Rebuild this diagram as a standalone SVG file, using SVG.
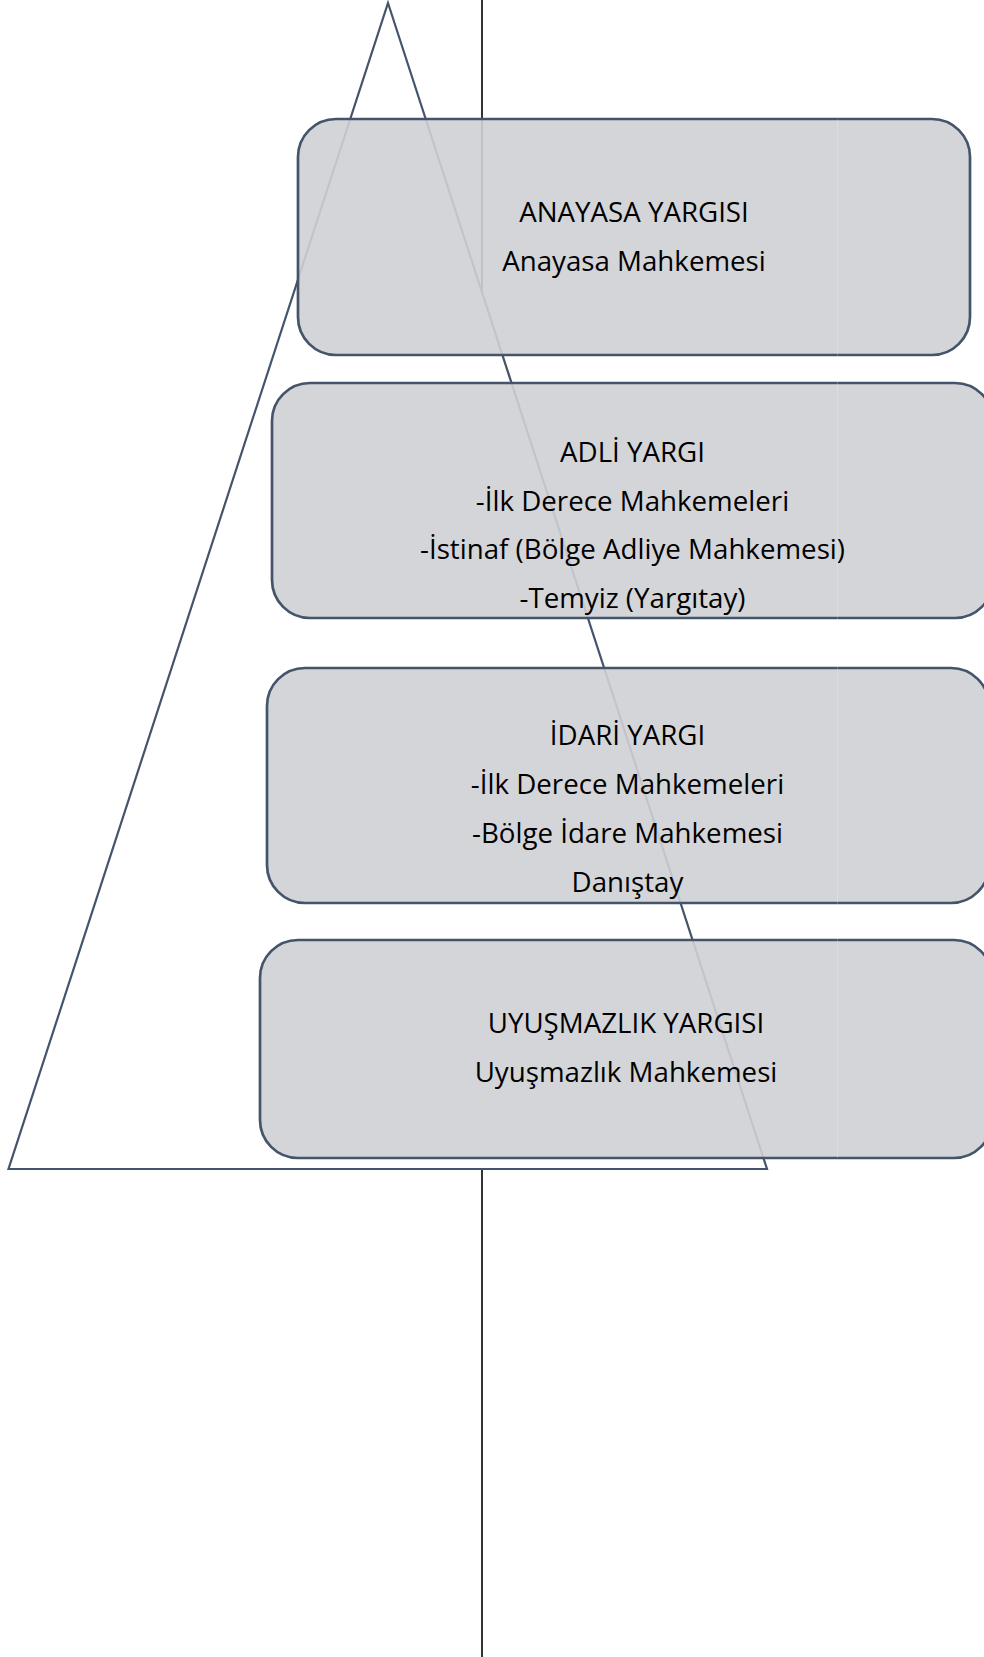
<svg xmlns="http://www.w3.org/2000/svg" width="984" height="1657" viewBox="0 0 984 1657">
  <style>
    .box { fill: #cfd0d5; fill-opacity: 0.9; stroke: #44546a; stroke-width: 2.7; }
    .lbl { font-family: "Open Sans", "Liberation Sans", sans-serif; font-size: 27.7px; fill: #000000; text-anchor: middle; }
    .tri { fill: #ffffff; stroke: #44546a; stroke-width: 2.2; stroke-linejoin: miter; }
    .axis { stroke: #000000; stroke-width: 1.6; fill: none; }
  </style>
  <rect x="0" y="0" width="984" height="1657" fill="#ffffff"/>
  <g id="connectors">
    <line class="axis" x1="482" y1="0" x2="482" y2="1657"/>
  </g>
  <g id="pyramid">
    <polygon class="tri" points="388,3 767,1169 8.5,1169"/>
  </g>
  <g id="node-anayasa">
    <rect class="box" x="298" y="119" width="672" height="236" rx="38" ry="38"/>
    <text class="lbl" x="634" y="222">ANAYASA YARGISI</text>
    <text class="lbl" x="634" y="271">Anayasa Mahkemesi</text>
  </g>
  <g id="node-adli">
    <rect class="box" x="272" y="383" width="721" height="235" rx="38" ry="38"/>
    <text class="lbl" x="632.5" y="462">ADLİ YARGI</text>
    <text class="lbl" x="632.5" y="510.5">-İlk Derece Mahkemeleri</text>
    <text class="lbl" x="632.5" y="559">-İstinaf (Bölge Adliye Mahkemesi)</text>
    <text class="lbl" x="632.5" y="607.5">-Temyiz (Yargıtay)</text>
  </g>
  <g id="node-idari">
    <rect class="box" x="267" y="668" width="722" height="235" rx="38" ry="38"/>
    <text class="lbl" x="627.5" y="745">İDARİ YARGI</text>
    <text class="lbl" x="627.5" y="794">-İlk Derece Mahkemeleri</text>
    <text class="lbl" x="627.5" y="843">-Bölge İdare Mahkemesi</text>
    <text class="lbl" x="627.5" y="892">Danıştay</text>
  </g>
  <g id="node-uyusmazlik">
    <rect class="box" x="260" y="940" width="732" height="218" rx="38" ry="38"/>
    <text class="lbl" x="626" y="1033">UYUŞMAZLIK YARGISI</text>
    <text class="lbl" x="626" y="1082">Uyuşmazlık Mahkemesi</text>
  </g>
  <line x1="837.5" y1="119" x2="837.5" y2="1158" stroke="#ffffff" stroke-opacity="0.2" stroke-width="1"/>
</svg>
